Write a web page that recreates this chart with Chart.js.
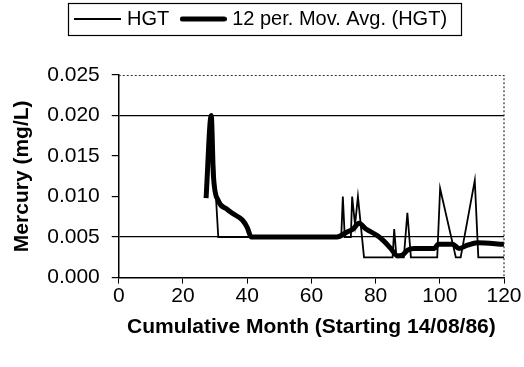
<!DOCTYPE html>
<html>
<head>
<meta charset="utf-8">
<script src="https://cdn.jsdelivr.net/npm/chart.js@4.4.1/dist/chart.umd.min.js"></script>
<style>
    html, body { margin: 0; padding: 0; background: #fff; }
    #wrap { width: 524px; height: 367px; }
</style>
</head>
<body>
<div id="wrap"><canvas id="chart_mercury"></canvas></div>
<script>
// data
var hgtMonths = [27.2, 28.8, 31.0, 69.3, 69.8, 70.4, 72.3, 72.7, 73.6, 74.5, 76.4, 85.3, 85.8, 86.5, 88.8, 89.9, 91.0, 99.2, 100.1, 105.0, 106.5, 110.9, 112.0, 120];
var hgtValues = [0.010, 0.020, 0.005, 0.005, 0.010, 0.005, 0.005, 0.010, 0.0065, 0.010, 0.0025, 0.0025, 0.006, 0.0025, 0.0025, 0.008, 0.0025, 0.0025, 0.011, 0.0025, 0.0025, 0.012, 0.0025, 0.0025];

var avgMonths = [27.2, 28.8, 29.5, 31, 33.5, 35.5, 38.5, 40, 41.3, 68, 71, 73, 74.8, 77, 80.5, 82.6, 84.7, 86.8, 88.4, 90, 92, 98.3, 99.5, 104, 106, 108.6, 111.7, 120];
var avgValues = [0.0098, 0.0200, 0.0125, 0.0095, 0.0085, 0.0079, 0.0071, 0.0062, 0.0050, 0.0050, 0.0056, 0.0060, 0.0067, 0.0060, 0.0052, 0.0045, 0.0036, 0.0027, 0.0028, 0.0034, 0.0036, 0.0036, 0.0041, 0.0041, 0.0036, 0.0040, 0.0043, 0.0041];

var seriesLabels = ['HGT', '12 per. Mov. Avg. (HGT)'];
var gridValues = [0.005, 0.020];

var LEGEND_PAD = 15;

var toPoints = function (xs, ys) {
    var pts = [];
    for (var i = 0; i < xs.length; i++) {
        pts.push({x: xs[i], y: ys[i]});
    }
    return pts;
};

// little line swatch used as the legend symbol
var lineSwatch = function (width) {
    var c = document.createElement('canvas');
    c.width = 47;
    c.height = 8;
    var g = c.getContext('2d');
    g.strokeStyle = '#000';
    g.lineWidth = width;
    g.lineCap = width > 3 ? 'round' : 'butt';
    g.beginPath();
    g.moveTo(width > 3 ? 2.5 : 0, 4);
    g.lineTo(width > 3 ? 44.5 : 47, 4);
    g.stroke();
    return c;
};

//extra room under the legend, nudge it right, box round it
var legendBox = {
    id: 'legendBox',
    beforeInit: function (chart) {
        var fit = chart.legend.fit;
        chart.legend.fit = function () {
            fit.bind(chart.legend)();
            this.height += 36;
        };
    },
    afterUpdate: function (chart) {
        chart.legend.left += 6;
        chart.legend.right += 6;
    },
    afterDraw: function (chart) {
        var lg = chart.legend;
        if (!lg || !lg.lineWidths) return;
        var startX = (lg.left + LEGEND_PAD + lg.right - lg.lineWidths[0]) / 2;
        var x0 = startX - 10.5;
        var x1 = startX + lg.lineWidths[0] - LEGEND_PAD + 14;
        var y0 = lg.top + LEGEND_PAD - 6;
        var ctx = chart.ctx;
        ctx.save();
        ctx.strokeStyle = '#000';
        ctx.lineWidth = 1.2;
        ctx.strokeRect(Math.round(x0) + 0.5, Math.round(y0) + 0.5, Math.round(x1 - x0), 32);
        ctx.restore();
    }
};

var plotFrame = {
    id: 'plotFrame',
    afterDraw: function (chart) {
        var a = chart.chartArea, ctx = chart.ctx;
        ctx.save();
        ctx.strokeStyle = '#333';
        ctx.lineWidth = 1.2;
        ctx.setLineDash([2, 2]);
        ctx.beginPath();
        ctx.moveTo(a.left, a.top + 0.5);
        ctx.lineTo(a.right, a.top + 0.5);
        ctx.lineTo(a.right, a.bottom);
        ctx.stroke();
        ctx.restore();
    }
};

var isGrid = function (v) {
    for (var i = 0; i < gridValues.length; i++) {
        if (Math.abs(v - gridValues[i]) < 1e-7) return true;
    }
    return false;
};

new Chart(document.getElementById('chart_mercury'), {
    type: 'line',
    data: {
        datasets: [{
            label: seriesLabels[0],
            data: toPoints(hgtMonths, hgtValues),
            borderColor: '#000',
            borderWidth: 1.8,
            pointRadius: 0,
            pointStyle: lineSwatch(1.8),
            tension: 0,
            fill: false
        }, {
            label: seriesLabels[1],
            data: toPoints(avgMonths, avgValues),
            borderColor: '#000',
            borderWidth: 5,
            pointRadius: 0,
            pointStyle: lineSwatch(5),
            cubicInterpolationMode: 'monotone',
            fill: false
        }]
    },
    options: {
        responsive: true,
        maintainAspectRatio: false,
        animation: false,
        layout: {
            padding: {left: 10, right: 20, top: -6, bottom: 23}
        },
        plugins: {
            tooltip: {enabled: false},
            legend: {
                position: 'top',
                labels: {
                    usePointStyle: true,
                    pointStyleWidth: 38,
                    boxWidth: 38,
                    boxHeight: 20,
                    padding: LEGEND_PAD,
                    color: '#000',
                    font: {family: 'Liberation Sans', size: 20}
                }
            }
        },
        scales: {
            x: {
                type: 'linear',
                min: 0,
                max: 120,
                ticks: {
                    stepSize: 20,
                    color: '#000',
                    padding: 0,
                    font: {family: 'Liberation Sans', size: 21}
                },
                grid: {
                    drawOnChartArea: false,
                    drawTicks: true,
                    tickLength: 6,
                    tickColor: '#000'
                },
                border: {color: '#000', width: 1.5},
                title: {
                    display: true,
                    text: 'Cumulative Month (Starting 14/08/86)',
                    color: '#000',
                    padding: {top: 6, bottom: 4},
                    font: {family: 'Liberation Sans', size: 21, weight: 'bold'}
                }
            },
            y: {
                min: 0,
                max: 0.025,
                ticks: {
                    stepSize: 0.005,
                    color: '#000',
                    padding: 12,
                    font: {family: 'Liberation Sans', size: 21},
                    callback: function (v) { return v.toFixed(3); }
                },
                grid: {
                    drawTicks: true,
                    tickLength: 7,
                    tickColor: '#000',
                    lineWidth: 1.2,
                    color: function (ctx) {
                        return (ctx.tick && isGrid(ctx.tick.value)) ? '#000' : 'rgba(0,0,0,0)';
                    }
                },
                border: {color: '#000', width: 1.5},
                title: {
                    display: true,
                    text: 'Mercury (mg/L)',
                    color: '#000',
                    padding: {top: 0, bottom: 0},
                    font: {family: 'Liberation Sans', size: 21, weight: 'bold'}
                }
            }
        }
    },
    plugins: [legendBox, plotFrame]
});
</script>
</body>
</html>
